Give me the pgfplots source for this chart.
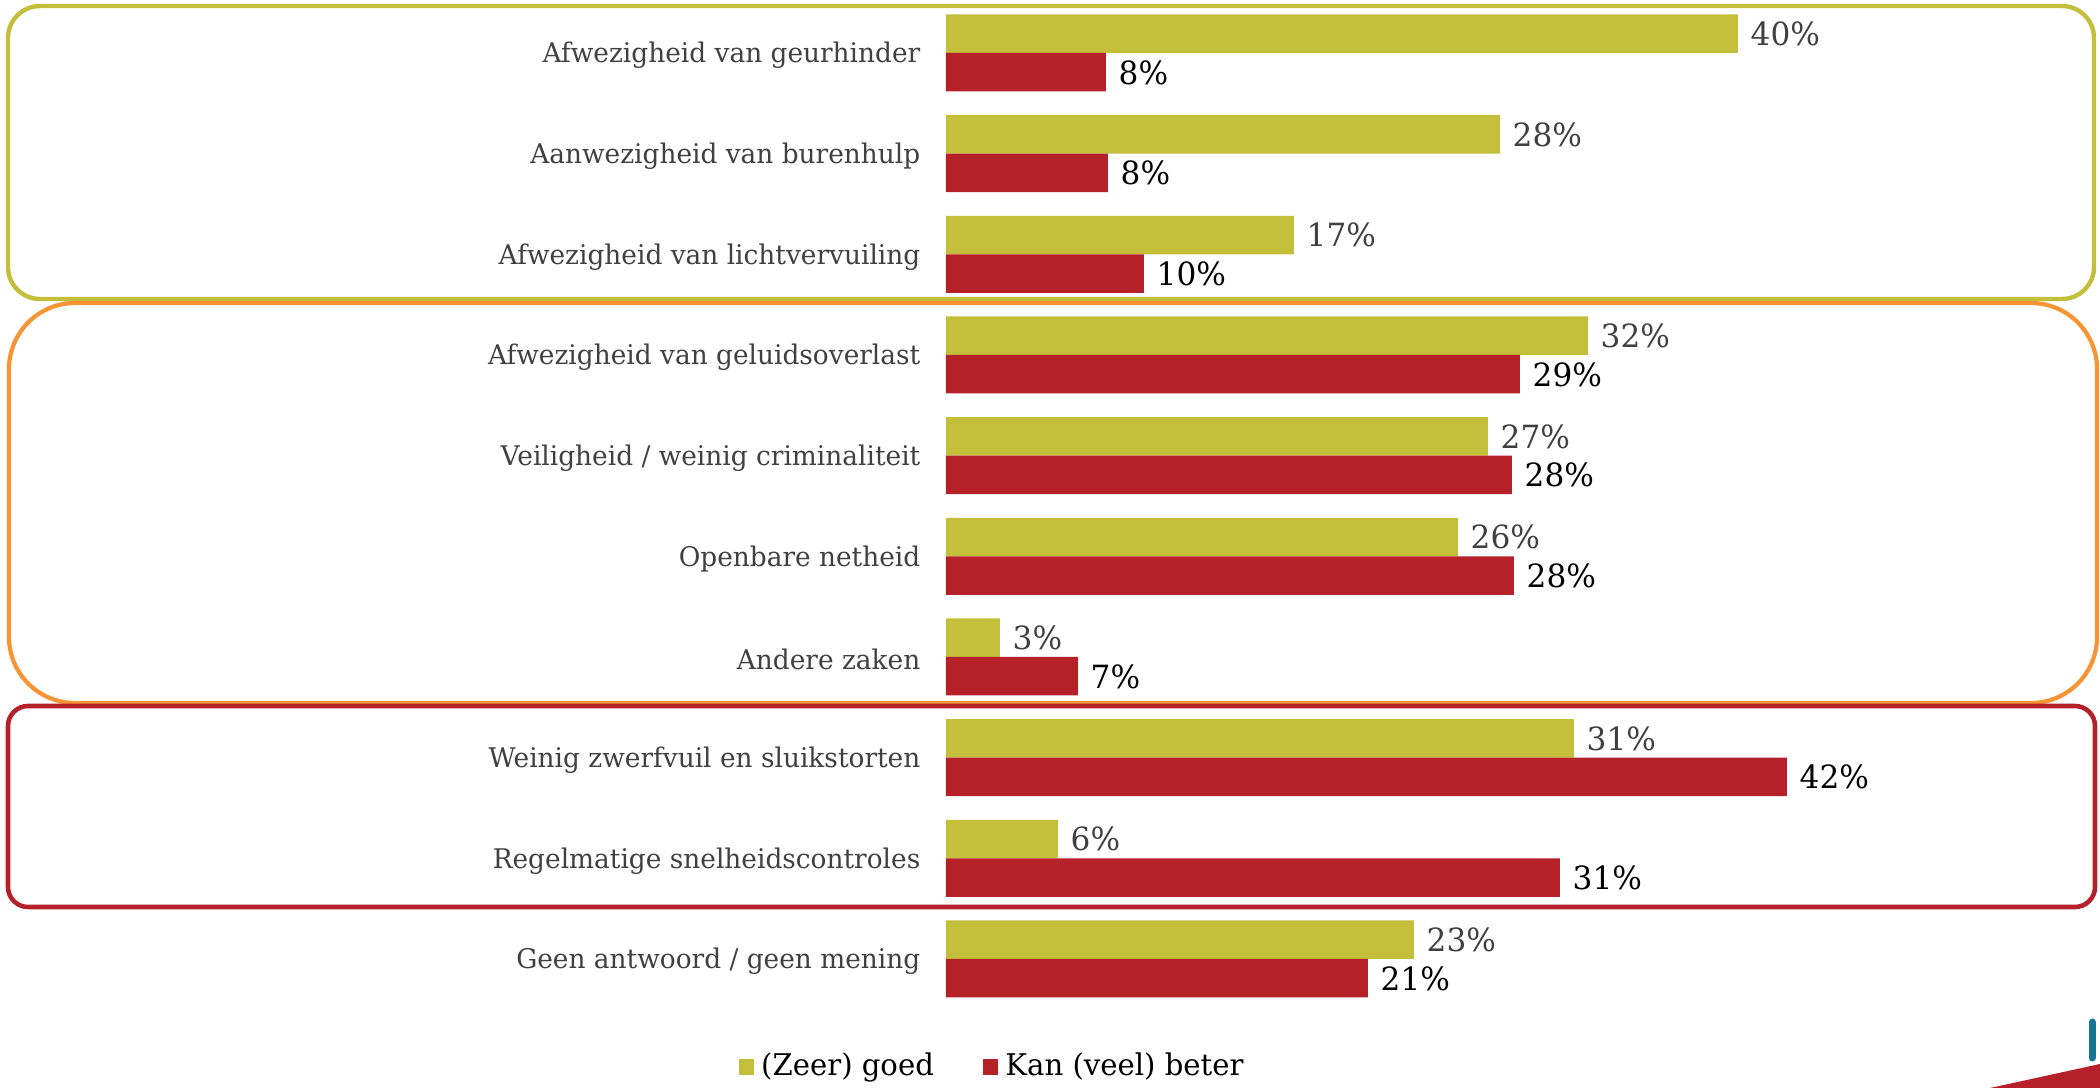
\documentclass[border=0pt]{standalone}
\usepackage{fontspec}
\setmainfont{DejaVu Serif}[FakeStretch=0.975]
\usepackage{pgfplots}
\usepackage{pgfplotstable}
\pgfplotsset{compat=1.18}
\definecolor{cgreen}{RGB}{195,191,59}
\definecolor{cred}{RGB}{181,32,41}
\definecolor{corange}{RGB}{247,148,51}
\definecolor{cteal}{RGB}{22,117,150}
\definecolor{ctext}{RGB}{64,64,64}

\pgfplotstableread{
y g gl r rl
9 39.6 40 8.0 8
8 27.7 28 8.1 8
7 17.4 17 9.9 10
6 32.1 32 28.7 29
5 27.1 27 28.3 28
4 25.6 26 28.4 28
3 2.7 3 6.6 7
2 31.4 31 42.05 42
1 5.6 6 30.7 31
0 23.4 23 21.1 21
}\datatable

\begin{document}
\begin{tikzpicture}
\path[use as bounding box] (0,0) rectangle (21,10.88);
\begin{axis}[
  at={(9.46cm,0.787cm)}, anchor=south west,
  scale only axis, width=10cm, height=10.067cm,
  xmin=0, xmax=50, ymin=-0.5, ymax=9.5,
  axis line style={draw=none}, tick style={draw=none},
  major tick length=0pt,
  xtick=\empty,
  ytick={0,...,9},
  yticklabels={Geen antwoord / geen mening, Regelmatige snelheidscontroles, Weinig zwerfvuil en sluikstorten, Andere zaken, Openbare netheid, Veiligheid / weinig criminaliteit, Afwezigheid van geluidsoverlast, Afwezigheid van lichtvervuiling, Aanwezigheid van burenhulp, Afwezigheid van geurhinder},
  yticklabel style={anchor=east, inner sep=0pt, xshift=-0.25cm, yshift=-0.025cm, text=ctext, font=\fontsize{7.7}{9}\selectfont},
  clip=false,
  legend style={at={(axis description cs:-0.208,-0.0573)}, anchor=west, draw=none, fill=none,
    legend columns=2, font=\fontsize{8.5}{10}\selectfont,
    /tikz/every even column/.append style={column sep=0.42cm},
    legend cell align=left, inner sep=0pt},
  legend image code/.code={\fill[#1] (0cm,-0.082cm) rectangle (0.155cm,0.082cm);},
]
\addplot[xbar, fill=cgreen, draw=none, bar width=0.385cm, bar shift=0.1925cm,
  point meta=explicit symbolic,
  nodes near coords={\pgfplotspointmeta\%},
  every node near coord/.append style={anchor=west, inner sep=0pt, xshift=0.12cm, yshift=0.19cm, text=ctext, font=\fontsize{9.1}{10}\selectfont}]
  table[x=g, y=y, meta=gl] {\datatable};
\addlegendentry{(Zeer) goed}
\addplot[xbar, fill=cred, draw=none, bar width=0.385cm, bar shift=-0.1925cm,
  point meta=explicit symbolic,
  nodes near coords={\pgfplotspointmeta\%},
  every node near coord/.append style={anchor=west, inner sep=0pt, xshift=0.12cm, yshift=-0.195cm, text=black, font=\fontsize{9.1}{10}\selectfont}]
  table[x=r, y=y, meta=rl] {\datatable};
\addlegendentry{Kan (veel) beter}
\end{axis}
% group frames
\draw[cgreen, line width=1.25pt, rounded corners=0.32cm] (0.08,7.89) rectangle (20.94,10.82);
\draw[corange, line width=1.2pt, rounded corners=0.66cm] (0.09,3.85) rectangle (20.97,7.85);
\draw[cred, line width=1.3pt, rounded corners=0.2cm] (0.08,1.81) rectangle (20.95,3.82);
% logo fragment
\fill[cred] (19.90,0) -- (21,0.24) -- (21,0) -- cycle;
\draw[cteal, line width=0.07cm, line cap=round] (20.92,0.30) -- (20.92,0.66);
\end{tikzpicture}
\end{document}
